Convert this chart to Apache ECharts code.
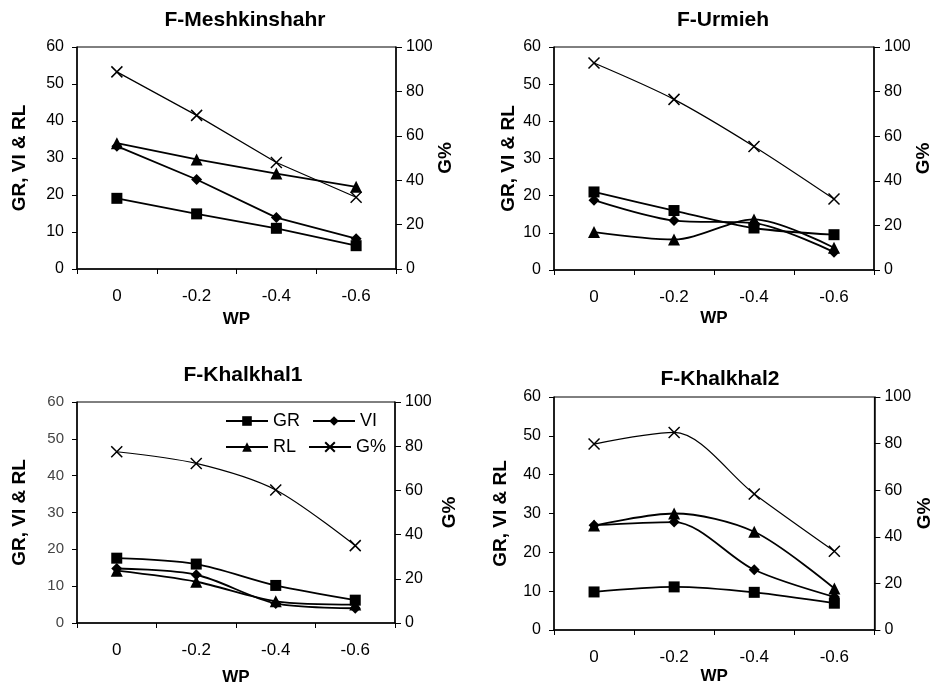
<!DOCTYPE html>
<html>
<head>
<meta charset="utf-8">
<script src="https://cdn.jsdelivr.net/npm/echarts@6/dist/echarts.min.js"></script>
<style>
  html, body { margin: 0; padding: 0; background: #fff; }
  #chart { width: 935px; height: 688px; }
</style>
</head>
<body>
<div id="chart"></div>
<script>
// WP levels on the x axis
const categories = ['0', '-0.2', '-0.4', '-0.6'];

// F-Meshkinshahr
const meshGR = [19.1, 14.9, 11.0, 6.3];
const meshVI = [33.2, 24.2, 13.9, 8.2];
const meshRL = [34.0, 29.6, 25.8, 22.2];
const meshG = [88.8, 69.2, 48.0, 32.3];

// F-Urmieh
const urmGR = [21.0, 16.0, 11.3, 9.5];
const urmVI = [18.8, 13.3, 12.6, 4.8];
const urmRL = [10.2, 8.2, 13.6, 6.0];
const urmG = [92.8, 76.5, 55.4, 31.8];

// F-Khalkhal1
const kh1GR = [17.6, 16.0, 10.2, 6.2];
const kh1VI = [14.8, 13.1, 5.3, 4.0];
const kh1RL = [14.2, 11.2, 5.9, 5.0];
const kh1G = [77.5, 72.2, 60.2, 35.0];

// F-Khalkhal2
const kh2GR = [9.8, 11.1, 9.7, 6.9];
const kh2VI = [27.0, 27.8, 15.5, 8.5];
const kh2RL = [26.9, 30.0, 25.3, 10.7];
const kh2G = [79.8, 84.8, 58.4, 33.8];

const leftTicks = [0, 60, 10];
const rightTicks = [0, 100, 20];

const FONT = 'Liberation Sans, Arial, sans-serif';
const CROSS = 'path://M0,0L10,10M10,0L0,10';

const panels = [
  { title: 'F-Meshkinshahr', tx: 240, ty: 5, grid: { left: 77, top: 47, width: 319, height: 222 },
    smooth: false, data: [meshGR, meshVI, meshRL, meshG], lGap: 48, rGap: 36, wpGap: 42 },
  { title: 'F-Urmieh', tx: 718, ty: 5, grid: { left: 554, top: 47, width: 320, height: 223 },
    smooth: 0.3, data: [urmGR, urmVI, urmRL, urmG], lGap: 36, rGap: 39, wpGap: 40 },
  { title: 'F-Khalkhal1', tx: 238, ty: 360, grid: { left: 77, top: 402, width: 318, height: 221 },
    smooth: 0.3, data: [kh1GR, kh1VI, kh1RL, kh1G], lGap: 48, rGap: 45, wpGap: 46, light: true },
  { title: 'F-Khalkhal2', tx: 715, ty: 364, grid: { left: 554, top: 397, width: 326, height: 233 },
    smooth: 0.3, data: [kh2GR, kh2VI, kh2RL, kh2G], lGap: 44, rGap: 37, wpGap: 38 }
];

const names = ['GR', 'VI', 'RL', 'G%'];
const symbols = ['rect', 'diamond', 'triangle', CROSS];
const symbolSizes = [11, 11, 12, 11];

const title = [], grid = [], xAxis = [], yAxis = [], series = [];

panels.forEach((p, i) => {
  title.push({
    text: p.title, left: p.tx, top: p.ty, textAlign: 'center',
    textStyle: { fontFamily: FONT, fontSize: 21, fontWeight: 'bold', color: '#000' }
  });
  grid.push(Object.assign({ show: true, borderColor: '#000', borderWidth: 1, backgroundColor: 'transparent' }, p.grid));
  xAxis.push({
    gridIndex: i, type: 'category', data: categories, boundaryGap: true,
    name: 'WP', nameLocation: 'middle', nameGap: p.wpGap,
    nameTextStyle: { fontFamily: FONT, fontSize: 17, fontWeight: 'bold', color: '#000' },
    axisLine: { lineStyle: { color: '#000', width: 1.5 } },
    axisTick: { show: true, length: 5, lineStyle: { color: '#000' } },
    axisLabel: { fontFamily: FONT, fontSize: 17, color: '#000', margin: 19 },
    splitLine: { show: false }
  });
  yAxis.push({
    gridIndex: i, type: 'value', position: 'left',
    min: leftTicks[0], max: leftTicks[1], interval: leftTicks[2],
    name: 'GR, VI & RL', nameLocation: 'middle', nameGap: p.lGap, nameRotate: 90,
    nameTextStyle: { fontFamily: FONT, fontSize: 19, fontWeight: 'bold', color: '#000' },
    axisLine: { show: true, lineStyle: { color: '#000', width: 1.5 } },
    axisTick: { show: true, length: 5, lineStyle: { color: '#000' } },
    axisLabel: { fontFamily: FONT, fontSize: p.light ? 15 : 16, color: p.light ? '#444' : '#000', margin: 13 },
    splitLine: { show: false }
  });
  yAxis.push({
    gridIndex: i, type: 'value', position: 'right',
    min: rightTicks[0], max: rightTicks[1], interval: rightTicks[2],
    name: 'G%', nameLocation: 'middle', nameGap: p.rGap, nameRotate: 90,
    nameTextStyle: { fontFamily: FONT, fontSize: 19, fontWeight: 'bold', color: '#000' },
    axisLine: { show: true, lineStyle: { color: '#000', width: 1.5 } },
    axisTick: { show: true, length: 6, lineStyle: { color: '#000' } },
    axisLabel: { fontFamily: FONT, fontSize: 16, color: '#000', margin: 10 },
    splitLine: { show: false }
  });
  p.data.forEach((vals, k) => {
    const isG = k === 3;
    series.push({
      name: names[k], type: 'line', xAxisIndex: i, yAxisIndex: isG ? 2 * i + 1 : 2 * i,
      data: vals, smooth: p.smooth,
      symbol: symbols[k], symbolSize: symbolSizes[k],
      lineStyle: { color: '#000', width: isG ? 1.2 : 1.8 },
      itemStyle: isG ? { color: '#fff', borderColor: '#000', borderWidth: 1.5 } : { color: '#000', borderWidth: 0 },
      emphasis: { disabled: true },
      z: isG ? 3 : 2
    });
  });
});

const legendText = { fontFamily: FONT, fontSize: 18, color: '#000' };
const legend = [
  { data: ['GR', 'VI'], left: 220, top: 407, itemWidth: 42, itemHeight: 12, itemGap: 12, textStyle: legendText, selectedMode: false },
  { data: ['RL', 'G%'], left: 220, top: 433, itemWidth: 42, itemHeight: 12, itemGap: 12, textStyle: legendText, selectedMode: false }
];

const chart = echarts.init(document.getElementById('chart'));
chart.setOption({
  backgroundColor: '#fff',
  animation: false,
  title, legend, grid, xAxis, yAxis, series
});
</script>
</body>
</html>
